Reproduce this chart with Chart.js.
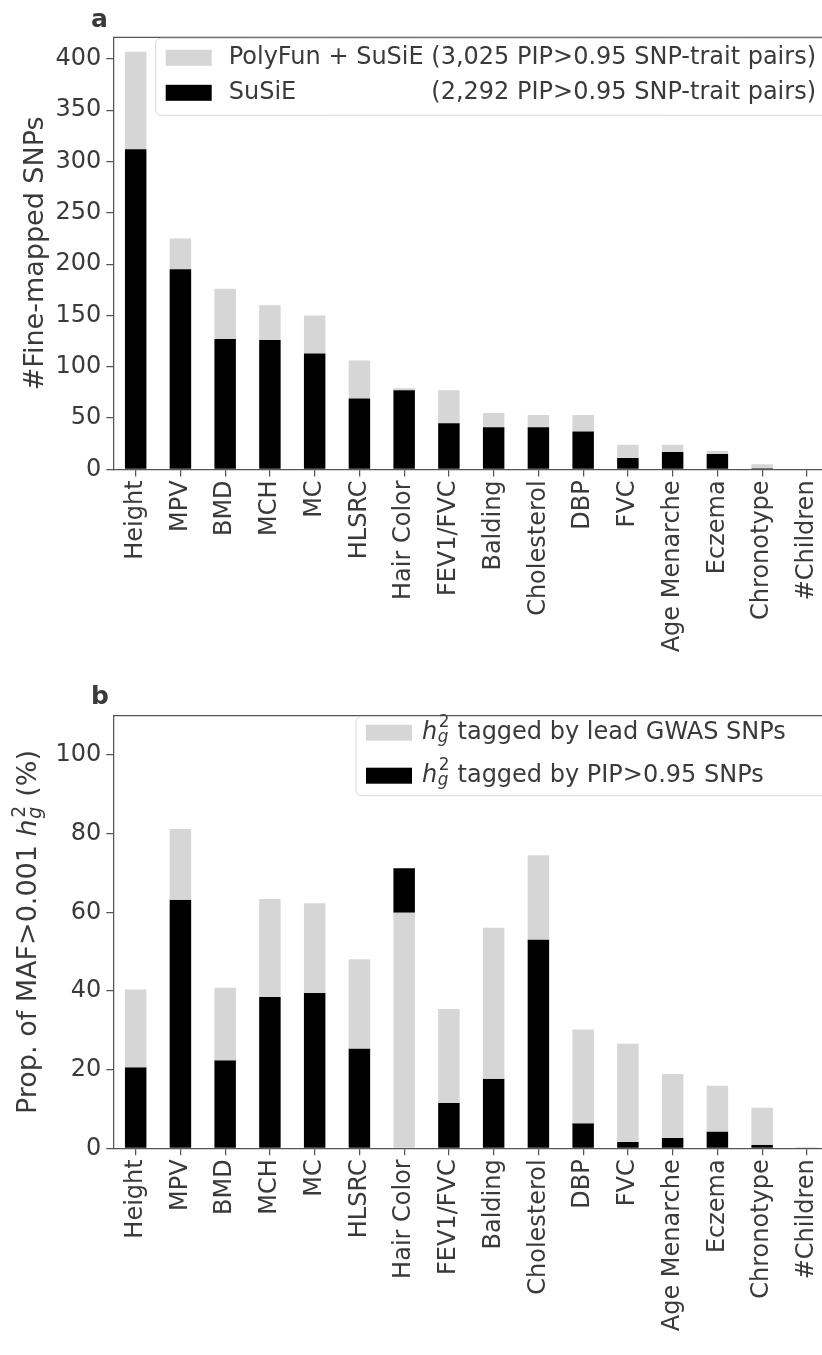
<!DOCTYPE html>
<html>
<head>
<meta charset="utf-8">
<script src="https://cdn.jsdelivr.net/npm/chart.js@4.4.1/dist/chart.umd.min.js"></script>
<style>
  html, body { margin: 0; padding: 0; background: #fff; overflow: hidden; width: 822px; height: 1355px; }
  .panel { position: relative; width: 840px; }
</style>
</head>
<body>
<div class="panel" style="height:680px"><canvas id="chartA" width="840" height="680"></canvas></div>
<div class="panel" style="height:675px"><canvas id="chartB" width="840" height="675"></canvas></div>
<script>
// traits, ordered as in the figure
const traits = ['Height', 'MPV', 'BMD', 'MCH', 'MC', 'HLSRC', 'Hair Color', 'FEV1/FVC',
  'Balding', 'Cholesterol', 'DBP', 'FVC', 'Age Menarche', 'Eczema', 'Chronotype', '#Children'];

// panel a: number of fine-mapped SNPs (PIP>0.95)
const polyfunSnps = [407, 225, 176, 160, 150, 106, 79, 77, 55, 53, 53, 24, 24, 18, 5, 0];
const susieSnps = [312, 195, 127, 126, 113, 69, 77, 45, 41, 41, 37, 11, 17, 15, 1, 0];
const snpTicks = [0, 50, 100, 150, 200, 250, 300, 350, 400];

// panel b: % of MAF>0.001 h2g tagged
const gwasH2 = [40.4, 81.2, 40.8, 63.4, 62.3, 48.1, 59.9, 35.4, 56.1, 74.5, 30.2, 26.6, 18.9, 15.9, 10.3, 0.35];
const pipH2 = [20.6, 63.2, 22.4, 38.5, 39.5, 25.4, 71.2, 11.5, 17.7, 53.1, 6.4, 1.6, 2.6, 4.3, 0.9, 0];
const h2Ticks = [0, 20, 40, 60, 80, 100];

const FONT = "'DejaVu Sans', sans-serif";
const TEXT = '#3a3a3a';
const LINE = '#555555';
const GRAY = '#d6d6d6';
const TICK_SIZE = 24;
const TITLE_SIZE = 27;
const LEGEND_SIZE = 24;

// draws text runs, some italic, with h^2_g style scripts; returns width
function richText(ctx, parts, x, y, size, dry) {
  let cx = x;
  parts.forEach(p => {
    if (p.sup !== undefined) {
      const s = size * 0.7;
      ctx.font = s + 'px ' + FONT;
      const w1 = ctx.measureText(p.sup).width;
      if (!dry) ctx.fillText(p.sup, cx + 1.5, y - size * 0.42);
      ctx.font = 'italic ' + s + 'px ' + FONT;
      const w2 = ctx.measureText(p.sub).width;
      if (!dry) ctx.fillText(p.sub, cx + 0.5, y + size * 0.2);
      cx += Math.max(w1, w2) + 2;
    } else {
      ctx.font = (p.it ? 'italic ' : '') + size + 'px ' + FONT;
      if (!dry) ctx.fillText(p.t, cx, y);
      cx += ctx.measureText(p.t).width;
    }
  });
  return cx - x;
}

const decor = {
  id: 'decor',
  afterDraw(chart, args, o) {
    const ctx = chart.ctx;
    const a = chart.chartArea;
    ctx.save();
    // top and right spines
    ctx.strokeStyle = LINE;
    ctx.lineWidth = 1.25;
    ctx.beginPath();
    ctx.moveTo(a.left, a.top);
    ctx.lineTo(a.right, a.top);
    ctx.lineTo(a.right, a.bottom);
    ctx.stroke();

    // panel letter
    ctx.fillStyle = TEXT;
    ctx.font = 'bold 25px ' + FONT;
    ctx.textBaseline = 'alphabetic';
    ctx.fillText(o.letter, 91, o.letterY);

    // y axis title, rotated
    ctx.save();
    ctx.translate(o.titleX, (a.top + a.bottom) / 2);
    ctx.rotate(-Math.PI / 2);
    const tw = richText(ctx, o.title, 0, 0, TITLE_SIZE, true);
    richText(ctx, o.title, -tw / 2, 0, TITLE_SIZE, false);
    ctx.restore();

    // legend box
    const L = o.legend;
    ctx.fillStyle = 'rgba(255,255,255,0.85)';
    ctx.strokeStyle = '#d8d8d8';
    ctx.lineWidth = 1;
    ctx.beginPath();
    ctx.roundRect(L.x, a.top + 1, 840 - L.x - 12, L.h, 5);
    ctx.fill();
    ctx.stroke();
    ctx.textBaseline = 'middle';
    let firstW = 0;
    L.rows.forEach((r, i) => {
      const cy = a.top + r.dy;
      ctx.fillStyle = r.color;
      ctx.fillRect(L.x + L.swatchOff, cy - 8, 46, 16);
      ctx.fillStyle = TEXT;
      const w = richText(ctx, r.parts, L.x + L.textOff, cy, LEGEND_SIZE, false);
      if (i === 0) firstW = w;
      if (r.right) {
        ctx.textAlign = 'right';
        ctx.font = LEGEND_SIZE + 'px ' + FONT;
        ctx.fillText(r.right, L.x + L.textOff + firstW, cy);
        ctx.textAlign = 'left';
      }
    });
    ctx.restore();
  }
};

function axisStyle(extra) {
  return Object.assign({
    grid: { drawOnChartArea: false, drawTicks: true, tickLength: 7, color: LINE, lineWidth: 1.25 },
    border: { display: true, color: LINE, width: 1.25 },
  }, extra);
}

function makeChart(id, datasets, yMax, yTicks, xHeight, topPad, decorOpts) {
  return new Chart(document.getElementById(id).getContext('2d'), {
    type: 'bar',
    data: { labels: traits, datasets: datasets },
    options: {
      responsive: false,
      animation: false,
      layout: { padding: { top: topPad, right: 10, left: 0, bottom: 0 } },
      plugins: { legend: { display: false }, tooltip: { enabled: false }, decor: decorOpts },
      scales: {
        x: axisStyle({
          type: 'category',
          offset: true,
          grid: { offset: false, drawOnChartArea: false, drawTicks: true, tickLength: 7, color: LINE, lineWidth: 1.25 },
          ticks: { minRotation: 90, maxRotation: 90, autoSkip: false, color: TEXT, padding: 4,
                   font: { family: FONT, size: TICK_SIZE } },
          afterFit: s => { s.height = xHeight; }
        }),
        y: axisStyle({
          min: 0,
          max: yMax,
          afterBuildTicks: s => { s.ticks = yTicks.map(v => ({ value: v })); },
          ticks: { color: TEXT, padding: 5, font: { family: FONT, size: TICK_SIZE } },
          afterFit: s => { s.width = 113.3; }
        })
      }
    },
    plugins: [decor]
  });
}

const barOpts = { grouped: false, barPercentage: 0.48, categoryPercentage: 1, borderWidth: 0 };

makeChart('chartA', [
  Object.assign({ label: 'SuSiE', data: susieSnps, backgroundColor: '#000', order: 0 }, barOpts),
  Object.assign({ label: 'PolyFun + SuSiE', data: polyfunSnps.map((v, i) => [susieSnps[i], v]),
                  backgroundColor: GRAY, order: 1 }, barOpts)
], 421, snpTicks, 680 - 469.4, 37.3, {
  letter: 'a', letterY: 27, titleX: 43,
  title: [{ t: '#Fine-mapped SNPs' }],
  legend: {
    x: 155.7, h: 77, swatchOff: 10, textOff: 73,
    rows: [
      { color: GRAY, dy: 20.5, parts: [{ t: 'PolyFun + SuSiE (3,025 PIP>0.95 SNP-trait pairs)' }] },
      { color: '#000', dy: 55.5, parts: [{ t: 'SuSiE' }], right: '(2,292 PIP>0.95 SNP-trait pairs)' }
    ]
  }
});

// the two shares as touching segments: the smaller one at the bottom in its own colour
// (hair colour is the one trait where the PIP share is above the GWAS share)
const gwasBars = gwasH2.map((g, i) => pipH2[i] < g ? [pipH2[i], g] : [0, g]);
const pipBars = pipH2.map((p, i) => p > gwasH2[i] ? [gwasH2[i], p] : [0, p]);

makeChart('chartB', [
  Object.assign({ label: 'h2g tagged by lead GWAS SNPs', data: gwasBars, backgroundColor: GRAY, order: 0 }, barOpts),
  Object.assign({ label: 'h2g tagged by PIP>0.95 SNPs', data: pipBars, backgroundColor: '#000', order: 1 }, barOpts)
], 110, h2Ticks, 675 - 468.3, 35.7, {
  letter: 'b', letterY: 24, titleX: 36,
  title: [{ t: 'Prop. of MAF>0.001 ' }, { t: 'h', it: true }, { sup: '2', sub: 'g' }, { t: ' (%)' }],
  legend: {
    x: 356, h: 79, swatchOff: 10, textOff: 66,
    rows: [
      { color: GRAY, dy: 17, parts: [{ t: 'h', it: true }, { sup: '2', sub: 'g' }, { t: ' tagged by lead GWAS SNPs' }] },
      { color: '#000', dy: 60, parts: [{ t: 'h', it: true }, { sup: '2', sub: 'g' }, { t: ' tagged by PIP>0.95 SNPs' }] }
    ]
  }
});
</script>
</body>
</html>
